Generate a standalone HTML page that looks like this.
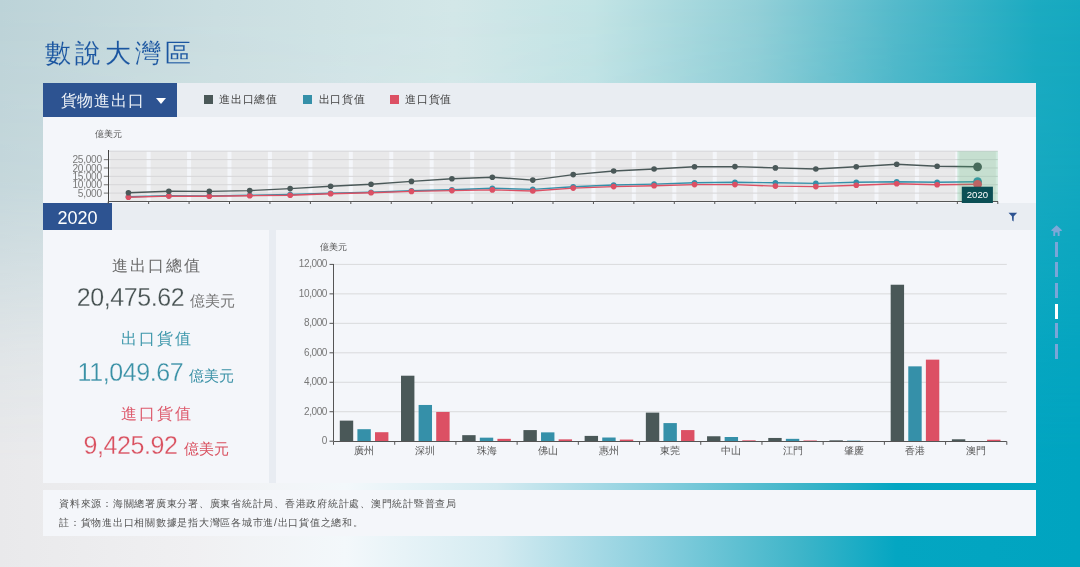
<!DOCTYPE html>
<html lang="zh-Hant"><head><meta charset="utf-8">
<style>
*{margin:0;padding:0;box-sizing:border-box}
html,body{width:1080px;height:567px;overflow:hidden}
body{font-family:"Liberation Sans",sans-serif;position:relative;background:#e8e8e8}
.bg{position:absolute;left:0;top:0;width:1080px;height:567px}
.bgtop{background:linear-gradient(to right,#bcd3d8 0%,#cadee1 20%,#d3e7e8 42%,#c3e4e5 55%,#94d0d8 70%,#55bacb 83%,#1cabc1 96%,#16a9c0 100%)}
.bgbot{background:linear-gradient(to right,#e9e9eb 0%,#f0f0f2 18%,#f3f8fb 32%,#d4ebf1 46%,#8dd0df 60%,#3fb5c9 74%,#04a6c2 83%,#00a4c0 100%);
 -webkit-mask-image:linear-gradient(to bottom,rgba(0,0,0,0) 0%,rgba(0,0,0,0.2) 32%,rgba(0,0,0,0.8) 62%,#000 82%)}
.abs{position:absolute}
.title{left:45px;top:33px;font-size:26px;color:#1a55a0;letter-spacing:4px;-webkit-text-stroke:0.12px #c8dcdf;white-space:nowrap;line-height:40px}
.hdr{left:43px;top:83px;width:993px;height:34px;background:#e9edf2}
.dd{left:43px;top:83px;width:134px;height:34px;background:#2d5391}
.ddtxt{left:60.5px;top:89px;font-size:15.5px;color:#eef2f7;line-height:24px;white-space:nowrap;letter-spacing:0.85px}
.tri{left:156px;top:98px;width:0;height:0;border-left:5px solid transparent;border-right:5px solid transparent;border-top:6px solid #fff}
.lg{top:95px;width:9px;height:9px}
.lgt{top:90.8px;font-size:11px;color:#444;line-height:16px;white-space:nowrap;letter-spacing:0.75px}
.minibg{left:43px;top:117px;width:993px;height:86px;background:#f4f6fa}
.yrbar{left:43px;top:203px;width:993px;height:27px;background:#e9edf2}
.yr{left:43px;top:203px;width:69px;height:27px;background:#2d5391;color:#fff;font-size:18px;line-height:30px;text-align:center}
.card{background:#f4f6fa}
.unit{font-size:9px;color:#555;white-space:nowrap;line-height:12px}
.lbl{width:226px;text-align:center;font-size:16px;line-height:20px;white-space:nowrap;letter-spacing:2px;text-indent:2px}
.num{width:226px;text-align:center;white-space:nowrap;line-height:28px}
.num b{font-weight:normal;font-size:25px;letter-spacing:-0.4px;-webkit-text-stroke:0.28px #f4f6fa}
.num i{font-style:normal;font-size:15px;margin-left:6px}
.foot{left:43px;top:489.8px;width:993px;height:45.8px;background:#f4f6fa}
.ft{left:59px;font-size:10px;letter-spacing:0.75px;color:#555;white-space:nowrap;line-height:12px}
.dash{left:1055.2px;width:2.8px;height:15px;background:#7aa6d8}
</style></head><body><div style="position:absolute;left:0;top:0;width:1080px;height:567px;will-change:transform">
<div class="bg bgtop"></div>
<div class="bg bgbot"></div>
<div class="abs title">數說大灣區</div>
<div class="abs hdr"></div>
<div class="abs dd"></div>
<div class="abs ddtxt">貨物進出口</div>
<div class="abs tri"></div>
<div class="abs lg" style="left:204px;background:#4a5858"></div>
<div class="abs lgt" style="left:219px">進出口總值</div>
<div class="abs lg" style="left:303px;background:#3590a9"></div>
<div class="abs lgt" style="left:318.5px">出口貨值</div>
<div class="abs lg" style="left:390px;background:#dc5064"></div>
<div class="abs lgt" style="left:405px">進口貨值</div>
<div class="abs minibg"></div>
<div class="abs unit" style="left:95px;top:128px">億美元</div>
<div class="abs yrbar"></div>
<div class="abs yr">2020</div>
<svg class="abs" style="left:1008px;top:212px" width="10" height="10" viewBox="0 0 10 10"><path d="M0.5 0.8 H9.2 L5.8 4.3 L5.6 9.6 L4.2 8.6 L3.9 4.3 Z" fill="#2d5391"/></svg>
<div class="abs" style="left:268px;top:230px;width:8px;height:252.8px;background:#e8ecf2"></div>
<div class="abs card" style="left:43px;top:230px;width:225.6px;height:252.8px"></div>
<div class="abs card" style="left:276px;top:230px;width:760px;height:252.8px"></div>
<div class="abs lbl" style="left:43px;top:256.2px;color:#6a6a6a">進出口總值</div>
<div class="abs num" style="left:43px;top:283px;color:#465151"><b>20,475.62</b><i style="color:#777">億美元</i></div>
<div class="abs lbl" style="left:43px;top:329px;color:#3d97ab">出口貨值</div>
<div class="abs num" style="left:43px;top:357.5px;color:#3a91a6"><b>11,049.67</b><i>億美元</i></div>
<div class="abs lbl" style="left:43px;top:404px;color:#dd5a6c">進口貨值</div>
<div class="abs num" style="left:43px;top:431px;color:#d9505f"><b>9,425.92</b><i>億美元</i></div>
<div class="abs unit" style="left:320px;top:241px">億美元</div>
<svg class="abs" style="left:0;top:0" width="1080" height="567" font-family="Liberation Sans, sans-serif">
<rect x="110.20" y="151.2" width="36.44" height="50.30000000000001" fill="#e9e9ea"/>
<rect x="150.64" y="151.2" width="36.44" height="50.30000000000001" fill="#e9e9ea"/>
<rect x="191.07" y="151.2" width="36.44" height="50.30000000000001" fill="#e9e9ea"/>
<rect x="231.51" y="151.2" width="36.44" height="50.30000000000001" fill="#e9e9ea"/>
<rect x="271.95" y="151.2" width="36.44" height="50.30000000000001" fill="#e9e9ea"/>
<rect x="312.38" y="151.2" width="36.44" height="50.30000000000001" fill="#e9e9ea"/>
<rect x="352.82" y="151.2" width="36.44" height="50.30000000000001" fill="#e9e9ea"/>
<rect x="393.25" y="151.2" width="36.44" height="50.30000000000001" fill="#e9e9ea"/>
<rect x="433.69" y="151.2" width="36.44" height="50.30000000000001" fill="#e9e9ea"/>
<rect x="474.13" y="151.2" width="36.44" height="50.30000000000001" fill="#e9e9ea"/>
<rect x="514.56" y="151.2" width="36.44" height="50.30000000000001" fill="#e9e9ea"/>
<rect x="555.00" y="151.2" width="36.44" height="50.30000000000001" fill="#e9e9ea"/>
<rect x="595.44" y="151.2" width="36.44" height="50.30000000000001" fill="#e9e9ea"/>
<rect x="635.87" y="151.2" width="36.44" height="50.30000000000001" fill="#e9e9ea"/>
<rect x="676.31" y="151.2" width="36.44" height="50.30000000000001" fill="#e9e9ea"/>
<rect x="716.75" y="151.2" width="36.44" height="50.30000000000001" fill="#e9e9ea"/>
<rect x="757.18" y="151.2" width="36.44" height="50.30000000000001" fill="#e9e9ea"/>
<rect x="797.62" y="151.2" width="36.44" height="50.30000000000001" fill="#e9e9ea"/>
<rect x="838.05" y="151.2" width="36.44" height="50.30000000000001" fill="#e9e9ea"/>
<rect x="878.49" y="151.2" width="36.44" height="50.30000000000001" fill="#e9e9ea"/>
<rect x="918.93" y="151.2" width="36.44" height="50.30000000000001" fill="#e9e9ea"/>
<rect x="959.36" y="151.2" width="36.44" height="50.30000000000001" fill="#e9e9ea"/>
<line x1="108.2" x2="997.8" y1="201.50" y2="201.50" stroke="#d6d6d8" stroke-width="1"/>
<line x1="108.2" x2="997.8" y1="193.12" y2="193.12" stroke="#d6d6d8" stroke-width="1"/>
<line x1="108.2" x2="997.8" y1="184.73" y2="184.73" stroke="#d6d6d8" stroke-width="1"/>
<line x1="108.2" x2="997.8" y1="176.35" y2="176.35" stroke="#d6d6d8" stroke-width="1"/>
<line x1="108.2" x2="997.8" y1="167.97" y2="167.97" stroke="#d6d6d8" stroke-width="1"/>
<line x1="108.2" x2="997.8" y1="159.58" y2="159.58" stroke="#d6d6d8" stroke-width="1"/>
<line x1="108.2" x2="997.8" y1="151.20" y2="151.20" stroke="#d6d6d8" stroke-width="1"/>
<line x1="103.8" x2="108.2" y1="193.12" y2="193.12" stroke="#888" stroke-width="1.2"/>
<line x1="103.8" x2="108.2" y1="184.73" y2="184.73" stroke="#888" stroke-width="1.2"/>
<line x1="103.8" x2="108.2" y1="176.35" y2="176.35" stroke="#888" stroke-width="1.2"/>
<line x1="103.8" x2="108.2" y1="167.97" y2="167.97" stroke="#888" stroke-width="1.2"/>
<line x1="103.8" x2="108.2" y1="159.58" y2="159.58" stroke="#888" stroke-width="1.2"/>
<polyline points="128.42,196.80 168.85,195.80 209.29,196.00 249.73,195.30 290.16,194.50 330.60,193.20 371.04,192.20 411.47,190.80 451.91,189.70 492.35,188.30 532.78,189.40 573.22,186.80 613.65,185.00 654.09,184.10 694.53,182.80 734.96,182.30 775.40,182.80 815.84,183.40 856.27,182.30 896.71,181.70 937.15,182.30 977.58,181.70" fill="none" stroke="#3590a9" stroke-width="1.4"/><circle cx="128.42" cy="196.80" r="2.8" fill="#3590a9"/><circle cx="168.85" cy="195.80" r="2.8" fill="#3590a9"/><circle cx="209.29" cy="196.00" r="2.8" fill="#3590a9"/><circle cx="249.73" cy="195.30" r="2.8" fill="#3590a9"/><circle cx="290.16" cy="194.50" r="2.8" fill="#3590a9"/><circle cx="330.60" cy="193.20" r="2.8" fill="#3590a9"/><circle cx="371.04" cy="192.20" r="2.8" fill="#3590a9"/><circle cx="411.47" cy="190.80" r="2.8" fill="#3590a9"/><circle cx="451.91" cy="189.70" r="2.8" fill="#3590a9"/><circle cx="492.35" cy="188.30" r="2.8" fill="#3590a9"/><circle cx="532.78" cy="189.40" r="2.8" fill="#3590a9"/><circle cx="573.22" cy="186.80" r="2.8" fill="#3590a9"/><circle cx="613.65" cy="185.00" r="2.8" fill="#3590a9"/><circle cx="654.09" cy="184.10" r="2.8" fill="#3590a9"/><circle cx="694.53" cy="182.80" r="2.8" fill="#3590a9"/><circle cx="734.96" cy="182.30" r="2.8" fill="#3590a9"/><circle cx="775.40" cy="182.80" r="2.8" fill="#3590a9"/><circle cx="815.84" cy="183.40" r="2.8" fill="#3590a9"/><circle cx="856.27" cy="182.30" r="2.8" fill="#3590a9"/><circle cx="896.71" cy="181.70" r="2.8" fill="#3590a9"/><circle cx="937.15" cy="182.30" r="2.8" fill="#3590a9"/><circle cx="977.58" cy="181.70" r="4.4" fill="#3590a9"/>
<polyline points="128.42,197.20 168.85,196.10 209.29,196.30 249.73,195.70 290.16,195.20 330.60,193.70 371.04,192.80 411.47,191.40 451.91,190.60 492.35,189.90 532.78,191.00 573.22,188.10 613.65,186.60 654.09,185.70 694.53,184.60 734.96,184.60 775.40,186.10 815.84,186.60 856.27,185.20 896.71,183.70 937.15,184.80 977.58,184.30" fill="none" stroke="#dc5064" stroke-width="1.4"/><circle cx="128.42" cy="197.20" r="2.8" fill="#dc5064"/><circle cx="168.85" cy="196.10" r="2.8" fill="#dc5064"/><circle cx="209.29" cy="196.30" r="2.8" fill="#dc5064"/><circle cx="249.73" cy="195.70" r="2.8" fill="#dc5064"/><circle cx="290.16" cy="195.20" r="2.8" fill="#dc5064"/><circle cx="330.60" cy="193.70" r="2.8" fill="#dc5064"/><circle cx="371.04" cy="192.80" r="2.8" fill="#dc5064"/><circle cx="411.47" cy="191.40" r="2.8" fill="#dc5064"/><circle cx="451.91" cy="190.60" r="2.8" fill="#dc5064"/><circle cx="492.35" cy="189.90" r="2.8" fill="#dc5064"/><circle cx="532.78" cy="191.00" r="2.8" fill="#dc5064"/><circle cx="573.22" cy="188.10" r="2.8" fill="#dc5064"/><circle cx="613.65" cy="186.60" r="2.8" fill="#dc5064"/><circle cx="654.09" cy="185.70" r="2.8" fill="#dc5064"/><circle cx="694.53" cy="184.60" r="2.8" fill="#dc5064"/><circle cx="734.96" cy="184.60" r="2.8" fill="#dc5064"/><circle cx="775.40" cy="186.10" r="2.8" fill="#dc5064"/><circle cx="815.84" cy="186.60" r="2.8" fill="#dc5064"/><circle cx="856.27" cy="185.20" r="2.8" fill="#dc5064"/><circle cx="896.71" cy="183.70" r="2.8" fill="#dc5064"/><circle cx="937.15" cy="184.80" r="2.8" fill="#dc5064"/><circle cx="977.58" cy="184.30" r="4.4" fill="#dc5064"/>
<polyline points="128.42,192.80 168.85,191.20 209.29,191.40 249.73,190.60 290.16,188.60 330.60,186.30 371.04,184.30 411.47,181.40 451.91,178.80 492.35,177.20 532.78,180.10 573.22,174.60 613.65,171.00 654.09,169.00 694.53,166.80 734.96,166.60 775.40,167.90 815.84,169.00 856.27,166.80 896.71,164.30 937.15,166.30 977.58,166.80" fill="none" stroke="#4a5858" stroke-width="1.4"/><circle cx="128.42" cy="192.80" r="2.8" fill="#4a5858"/><circle cx="168.85" cy="191.20" r="2.8" fill="#4a5858"/><circle cx="209.29" cy="191.40" r="2.8" fill="#4a5858"/><circle cx="249.73" cy="190.60" r="2.8" fill="#4a5858"/><circle cx="290.16" cy="188.60" r="2.8" fill="#4a5858"/><circle cx="330.60" cy="186.30" r="2.8" fill="#4a5858"/><circle cx="371.04" cy="184.30" r="2.8" fill="#4a5858"/><circle cx="411.47" cy="181.40" r="2.8" fill="#4a5858"/><circle cx="451.91" cy="178.80" r="2.8" fill="#4a5858"/><circle cx="492.35" cy="177.20" r="2.8" fill="#4a5858"/><circle cx="532.78" cy="180.10" r="2.8" fill="#4a5858"/><circle cx="573.22" cy="174.60" r="2.8" fill="#4a5858"/><circle cx="613.65" cy="171.00" r="2.8" fill="#4a5858"/><circle cx="654.09" cy="169.00" r="2.8" fill="#4a5858"/><circle cx="694.53" cy="166.80" r="2.8" fill="#4a5858"/><circle cx="734.96" cy="166.60" r="2.8" fill="#4a5858"/><circle cx="775.40" cy="167.90" r="2.8" fill="#4a5858"/><circle cx="815.84" cy="169.00" r="2.8" fill="#4a5858"/><circle cx="856.27" cy="166.80" r="2.8" fill="#4a5858"/><circle cx="896.71" cy="164.30" r="2.8" fill="#4a5858"/><circle cx="937.15" cy="166.30" r="2.8" fill="#4a5858"/><circle cx="977.58" cy="166.80" r="4.4" fill="#4a5858"/>
<rect x="957.36" y="151.2" width="40.44" height="50.30000000000001" fill="rgba(58,183,104,0.2)"/>
<line x1="108.5" x2="108.5" y1="150" y2="203" stroke="#444" stroke-width="1"/>
<line x1="108.2" x2="998" y1="201.5" y2="201.5" stroke="#555" stroke-width="1"/>
<line x1="108.20" x2="108.20" y1="201.5" y2="204" stroke="#555" stroke-width="1"/>
<line x1="148.64" x2="148.64" y1="201.5" y2="204" stroke="#555" stroke-width="1"/>
<line x1="189.07" x2="189.07" y1="201.5" y2="204" stroke="#555" stroke-width="1"/>
<line x1="229.51" x2="229.51" y1="201.5" y2="204" stroke="#555" stroke-width="1"/>
<line x1="269.95" x2="269.95" y1="201.5" y2="204" stroke="#555" stroke-width="1"/>
<line x1="310.38" x2="310.38" y1="201.5" y2="204" stroke="#555" stroke-width="1"/>
<line x1="350.82" x2="350.82" y1="201.5" y2="204" stroke="#555" stroke-width="1"/>
<line x1="391.25" x2="391.25" y1="201.5" y2="204" stroke="#555" stroke-width="1"/>
<line x1="431.69" x2="431.69" y1="201.5" y2="204" stroke="#555" stroke-width="1"/>
<line x1="472.13" x2="472.13" y1="201.5" y2="204" stroke="#555" stroke-width="1"/>
<line x1="512.56" x2="512.56" y1="201.5" y2="204" stroke="#555" stroke-width="1"/>
<line x1="553.00" x2="553.00" y1="201.5" y2="204" stroke="#555" stroke-width="1"/>
<line x1="593.44" x2="593.44" y1="201.5" y2="204" stroke="#555" stroke-width="1"/>
<line x1="633.87" x2="633.87" y1="201.5" y2="204" stroke="#555" stroke-width="1"/>
<line x1="674.31" x2="674.31" y1="201.5" y2="204" stroke="#555" stroke-width="1"/>
<line x1="714.75" x2="714.75" y1="201.5" y2="204" stroke="#555" stroke-width="1"/>
<line x1="755.18" x2="755.18" y1="201.5" y2="204" stroke="#555" stroke-width="1"/>
<line x1="795.62" x2="795.62" y1="201.5" y2="204" stroke="#555" stroke-width="1"/>
<line x1="836.05" x2="836.05" y1="201.5" y2="204" stroke="#555" stroke-width="1"/>
<line x1="876.49" x2="876.49" y1="201.5" y2="204" stroke="#555" stroke-width="1"/>
<line x1="916.93" x2="916.93" y1="201.5" y2="204" stroke="#555" stroke-width="1"/>
<line x1="957.36" x2="957.36" y1="201.5" y2="204" stroke="#555" stroke-width="1"/>
<line x1="997.80" x2="997.80" y1="201.5" y2="204" stroke="#555" stroke-width="1"/>
<rect x="961.8" y="186.7" width="31.1" height="16.3" fill="#0b4f55"/>
<text x="977.4" y="197.8" text-anchor="middle" font-size="9.6" fill="#fff" font-family="Liberation Sans">2020</text>
<text x="101.8" y="196.72" text-anchor="end" font-size="10.2" letter-spacing="-0.3" fill="#7a7a7a">5,000</text>
<text x="101.8" y="188.33" text-anchor="end" font-size="10.2" letter-spacing="-0.3" fill="#7a7a7a">10,000</text>
<text x="101.8" y="179.95" text-anchor="end" font-size="10.2" letter-spacing="-0.3" fill="#7a7a7a">15,000</text>
<text x="101.8" y="171.57" text-anchor="end" font-size="10.2" letter-spacing="-0.3" fill="#7a7a7a">20,000</text>
<text x="101.8" y="163.18" text-anchor="end" font-size="10.2" letter-spacing="-0.3" fill="#7a7a7a">25,000</text>
<line x1="329.5" x2="333.5" y1="441.20" y2="441.20" stroke="#555" stroke-width="1"/>
<text x="327" y="444.00" text-anchor="end" font-size="10" letter-spacing="-0.4" fill="#777">0</text>
<line x1="333.5" x2="1006.8" y1="411.73" y2="411.73" stroke="#d9dadc" stroke-width="1"/>
<line x1="329.5" x2="333.5" y1="411.73" y2="411.73" stroke="#555" stroke-width="1"/>
<text x="327" y="414.53" text-anchor="end" font-size="10" letter-spacing="-0.4" fill="#777">2,000</text>
<line x1="333.5" x2="1006.8" y1="382.27" y2="382.27" stroke="#d9dadc" stroke-width="1"/>
<line x1="329.5" x2="333.5" y1="382.27" y2="382.27" stroke="#555" stroke-width="1"/>
<text x="327" y="385.07" text-anchor="end" font-size="10" letter-spacing="-0.4" fill="#777">4,000</text>
<line x1="333.5" x2="1006.8" y1="352.80" y2="352.80" stroke="#d9dadc" stroke-width="1"/>
<line x1="329.5" x2="333.5" y1="352.80" y2="352.80" stroke="#555" stroke-width="1"/>
<text x="327" y="355.60" text-anchor="end" font-size="10" letter-spacing="-0.4" fill="#777">6,000</text>
<line x1="333.5" x2="1006.8" y1="323.33" y2="323.33" stroke="#d9dadc" stroke-width="1"/>
<line x1="329.5" x2="333.5" y1="323.33" y2="323.33" stroke="#555" stroke-width="1"/>
<text x="327" y="326.13" text-anchor="end" font-size="10" letter-spacing="-0.4" fill="#777">8,000</text>
<line x1="333.5" x2="1006.8" y1="293.87" y2="293.87" stroke="#d9dadc" stroke-width="1"/>
<line x1="329.5" x2="333.5" y1="293.87" y2="293.87" stroke="#555" stroke-width="1"/>
<text x="327" y="296.67" text-anchor="end" font-size="10" letter-spacing="-0.4" fill="#777">10,000</text>
<line x1="333.5" x2="1006.8" y1="264.40" y2="264.40" stroke="#d9dadc" stroke-width="1"/>
<line x1="329.5" x2="333.5" y1="264.40" y2="264.40" stroke="#555" stroke-width="1"/>
<text x="327" y="267.20" text-anchor="end" font-size="10" letter-spacing="-0.4" fill="#777">12,000</text>
<rect x="339.80" y="420.62" width="13.4" height="20.58" fill="#4a5858"/>
<rect x="357.40" y="429.19" width="13.4" height="12.01" fill="#3590a9"/>
<rect x="375.00" y="432.21" width="13.4" height="8.99" fill="#dc5064"/>
<text x="364.10" y="453.6" text-anchor="middle" font-size="10" fill="#555">廣州</text>
<rect x="401.01" y="375.71" width="13.4" height="65.49" fill="#4a5858"/>
<rect x="418.61" y="404.96" width="13.4" height="36.24" fill="#3590a9"/>
<rect x="436.21" y="411.95" width="13.4" height="29.25" fill="#dc5064"/>
<text x="425.31" y="453.6" text-anchor="middle" font-size="10" fill="#555">深圳</text>
<rect x="462.22" y="435.16" width="13.4" height="6.04" fill="#4a5858"/>
<rect x="479.82" y="437.66" width="13.4" height="3.54" fill="#3590a9"/>
<rect x="497.42" y="438.84" width="13.4" height="2.36" fill="#dc5064"/>
<text x="486.52" y="453.6" text-anchor="middle" font-size="10" fill="#555">珠海</text>
<rect x="523.43" y="430.08" width="13.4" height="11.12" fill="#4a5858"/>
<rect x="541.03" y="432.36" width="13.4" height="8.84" fill="#3590a9"/>
<rect x="558.63" y="439.36" width="13.4" height="1.84" fill="#dc5064"/>
<text x="547.73" y="453.6" text-anchor="middle" font-size="10" fill="#555">佛山</text>
<rect x="584.64" y="435.90" width="13.4" height="5.30" fill="#4a5858"/>
<rect x="602.24" y="437.52" width="13.4" height="3.68" fill="#3590a9"/>
<rect x="619.84" y="439.58" width="13.4" height="1.62" fill="#dc5064"/>
<text x="608.94" y="453.6" text-anchor="middle" font-size="10" fill="#555">惠州</text>
<rect x="645.85" y="412.62" width="13.4" height="28.58" fill="#4a5858"/>
<rect x="663.45" y="423.08" width="13.4" height="18.12" fill="#3590a9"/>
<rect x="681.05" y="430.08" width="13.4" height="11.12" fill="#dc5064"/>
<text x="670.15" y="453.6" text-anchor="middle" font-size="10" fill="#555">東莞</text>
<rect x="707.05" y="436.26" width="13.4" height="4.94" fill="#4a5858"/>
<rect x="724.65" y="437.00" width="13.4" height="4.20" fill="#3590a9"/>
<rect x="742.25" y="440.32" width="13.4" height="0.88" fill="#dc5064"/>
<text x="731.36" y="453.6" text-anchor="middle" font-size="10" fill="#555">中山</text>
<rect x="768.26" y="437.96" width="13.4" height="3.24" fill="#4a5858"/>
<rect x="785.86" y="438.84" width="13.4" height="2.36" fill="#3590a9"/>
<rect x="803.46" y="440.46" width="13.4" height="0.74" fill="#dc5064"/>
<text x="792.57" y="453.6" text-anchor="middle" font-size="10" fill="#555">江門</text>
<rect x="829.47" y="440.32" width="13.4" height="0.88" fill="#4a5858"/>
<rect x="847.07" y="440.61" width="13.4" height="0.59" fill="#3590a9"/>
<rect x="864.67" y="440.98" width="13.4" height="0.22" fill="#dc5064"/>
<text x="853.78" y="453.6" text-anchor="middle" font-size="10" fill="#555">肇慶</text>
<rect x="890.68" y="284.73" width="13.4" height="156.47" fill="#4a5858"/>
<rect x="908.28" y="366.35" width="13.4" height="74.85" fill="#3590a9"/>
<rect x="925.88" y="359.65" width="13.4" height="81.55" fill="#dc5064"/>
<text x="914.99" y="453.6" text-anchor="middle" font-size="10" fill="#555">香港</text>
<rect x="951.89" y="439.28" width="13.4" height="1.92" fill="#4a5858"/>
<rect x="969.49" y="440.98" width="13.4" height="0.22" fill="#3590a9"/>
<rect x="987.09" y="439.73" width="13.4" height="1.47" fill="#dc5064"/>
<text x="976.20" y="453.6" text-anchor="middle" font-size="10" fill="#555">澳門</text>
<line x1="333.5" x2="333.5" y1="264" y2="441" stroke="#555" stroke-width="1"/>
<line x1="333.5" x2="1006.8" y1="441.5" y2="441.5" stroke="#555" stroke-width="1"/>
<line x1="333.50" x2="333.50" y1="441.5" y2="444.8" stroke="#555" stroke-width="1"/>
<line x1="394.71" x2="394.71" y1="441.5" y2="444.8" stroke="#555" stroke-width="1"/>
<line x1="455.92" x2="455.92" y1="441.5" y2="444.8" stroke="#555" stroke-width="1"/>
<line x1="517.13" x2="517.13" y1="441.5" y2="444.8" stroke="#555" stroke-width="1"/>
<line x1="578.34" x2="578.34" y1="441.5" y2="444.8" stroke="#555" stroke-width="1"/>
<line x1="639.55" x2="639.55" y1="441.5" y2="444.8" stroke="#555" stroke-width="1"/>
<line x1="700.75" x2="700.75" y1="441.5" y2="444.8" stroke="#555" stroke-width="1"/>
<line x1="761.96" x2="761.96" y1="441.5" y2="444.8" stroke="#555" stroke-width="1"/>
<line x1="823.17" x2="823.17" y1="441.5" y2="444.8" stroke="#555" stroke-width="1"/>
<line x1="884.38" x2="884.38" y1="441.5" y2="444.8" stroke="#555" stroke-width="1"/>
<line x1="945.59" x2="945.59" y1="441.5" y2="444.8" stroke="#555" stroke-width="1"/>
<line x1="1006.80" x2="1006.80" y1="441.5" y2="444.8" stroke="#555" stroke-width="1"/>
</svg>
<div class="abs foot"></div>
<div class="abs ft" style="top:498px">資料來源：海關總署廣東分署、廣東省統計局、香港政府統計處、澳門統計暨普查局</div>
<div class="abs ft" style="top:517px">註：貨物進出口相關數據是指大灣區各城市進/出口貨值之總和。</div>
<svg class="abs" style="left:1050px;top:225px" width="13" height="11" viewBox="0 0 13 11"><path d="M6.6 0.2 L11.8 5.0 V6.0 H9.6 V10.9 H7.7 V7.6 H5.2 V10.9 H3.3 V6.0 H1.4 V5.0 Z" fill="#7ea8d8"/></svg>
<div class="abs dash" style="top:241.5px"></div>
<div class="abs dash" style="top:262px"></div>
<div class="abs dash" style="top:282.5px"></div>
<div class="abs dash" style="top:303.5px;background:#fff"></div>
<div class="abs dash" style="top:323px"></div>
<div class="abs dash" style="top:343.5px"></div>
</div></body></html>
